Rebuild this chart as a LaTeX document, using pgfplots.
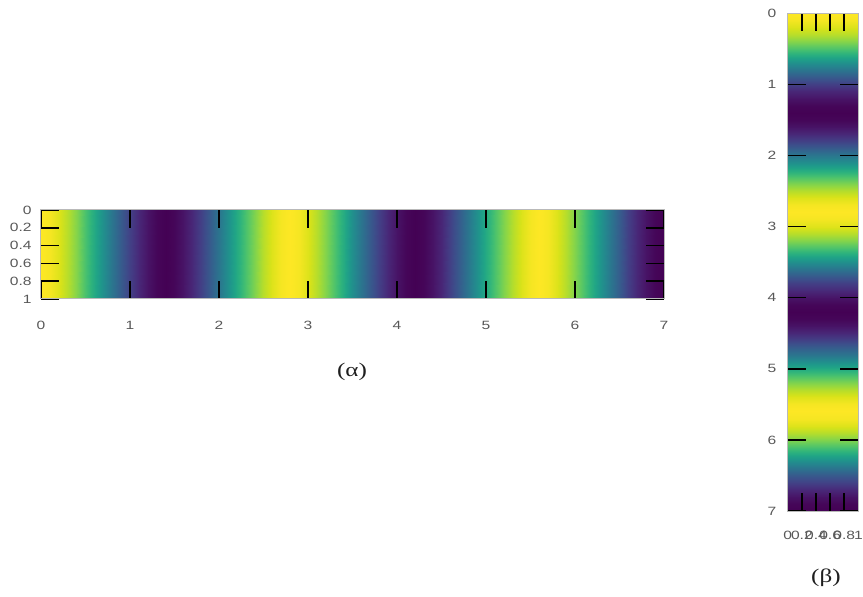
\documentclass[border=0pt]{standalone}
\usepackage{fontspec}
\setmainfont{Liberation Serif}[FakeStretch=1.3]
\newfontfamily\ticksans{Liberation Sans}[FakeStretch=1.3]
\usepackage{pgfplots}
\usepackage{pgfplotstable}
\pgfplotsset{compat=1.18}
\usepgfplotslibrary{colormaps}

\definecolor{tickgray}{RGB}{88,88,88}

% one period of the wave sampled every 0.1 along the strip
\pgfplotstableread{
t z
0.0 1
0.1 0.9749
0.2 0.9010
0.3 0.7818
0.4 0.6235
0.5 0.4339
0.6 0.2225
0.7 0
0.8 -0.2225
0.9 -0.4339
1.0 -0.6235
1.1 -0.7818
1.2 -0.9010
1.3 -0.9749
1.4 -1
1.5 -0.9749
1.6 -0.9010
1.7 -0.7818
1.8 -0.6235
1.9 -0.4339
2.0 -0.2225
2.1 0
2.2 0.2225
2.3 0.4339
2.4 0.6235
2.5 0.7818
2.6 0.9010
2.7 0.9749
2.8 1
2.9 0.9749
3.0 0.9010
3.1 0.7818
3.2 0.6235
3.3 0.4339
3.4 0.2225
3.5 0
3.6 -0.2225
3.7 -0.4339
3.8 -0.6235
3.9 -0.7818
4.0 -0.9010
4.1 -0.9749
4.2 -1
4.3 -0.9749
4.4 -0.9010
4.5 -0.7818
4.6 -0.6235
4.7 -0.4339
4.8 -0.2225
4.9 0
5.0 0.2225
5.1 0.4339
5.2 0.6235
5.3 0.7818
5.4 0.9010
5.5 0.9749
5.6 1
5.7 0.9749
5.8 0.9010
5.9 0.7818
6.0 0.6235
6.1 0.4339
6.2 0.2225
6.3 0
6.4 -0.2225
6.5 -0.4339
6.6 -0.6235
6.7 -0.7818
6.8 -0.9010
6.9 -0.9749
7.0 -1
}\wave

% two copies of the profile: the two edges of the strip
\pgfplotstablevertcat{\band}{\wave}
\pgfplotstablevertcat{\band}{\wave}

\pgfplotsset{
  strip/.style={
    scale only axis,
    enlargelimits=false,
    axis on top,
    y dir=reverse,
    colormap/viridis,
    point meta min=-1, point meta max=1,
    tick align=inside,
    xtick pos=both, ytick pos=both,
    major tick length=13.5pt,
    tick style={black, line width=1.1pt},
    axis line style={draw=gray!55, line width=0.75pt},
    ticklabel style={font=\ticksans\fontsize{9}{11}\selectfont, text=tickgray},
    /pgf/number format/assume math mode=true,
  },
}

\begin{document}
\begin{tikzpicture}[x=1pt,y=1pt]

% (alpha): horizontal strip
\begin{axis}[strip,
  at={(30.75pt,222.75pt)}, anchor=south west,
  width=467.25pt, height=66.75pt,
  xmin=0, xmax=7, ymin=0, ymax=1,
  xtick={0,1,...,7},
  ytick={0,0.2,0.4,0.6,0.8,1},
  xticklabel style={yshift=-13pt},
  yticklabel style={xshift=-3.5pt},
]
\addplot[surf, shader=interp, mesh/cols=71, point meta=explicit]
  table[x=t, y expr={\coordindex>70}, meta=z] {\band};
\end{axis}

% (beta): vertical strip
\begin{axis}[strip,
  at={(590.8pt,63.75pt)}, anchor=south west,
  width=52.95pt, height=373.3pt,
  xmin=0, xmax=1, ymin=0, ymax=7,
  ytick={0,1,...,7},
  xtick={0,0.2,0.4,0.6,0.8,1},
  xticklabel style={yshift=-11.5pt},
  yticklabel style={xshift=-5pt},
]
\addplot[surf, shader=interp, mesh/cols=71, point meta=explicit]
  table[y=t, x expr={\coordindex>70}, meta=z] {\band};
\end{axis}

\node[font=\fontsize{14.5}{16}\selectfont, text=black!88] at (264pt,168pt) {(α)};
\node[font=\fontsize{14.5}{16}\selectfont, text=black!88] at (619.5pt,13.5pt) {(β)};

\pgfresetboundingbox
\useasboundingbox (0,0) rectangle (647.25pt,447pt);
\end{tikzpicture}
\end{document}
